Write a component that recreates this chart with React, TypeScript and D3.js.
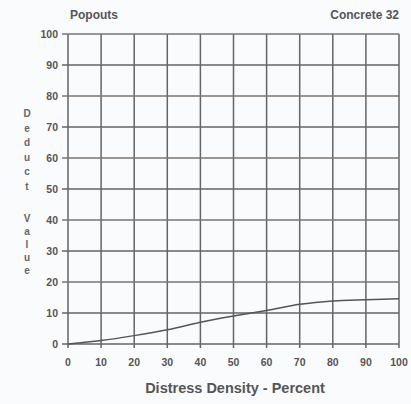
import React from "react";
import * as d3 from "d3";

const density = [0, 10, 20, 30, 40, 50, 60, 70, 80, 90, 100];
const deduct = [0, 1.1, 2.7, 4.6, 7.0, 9.0, 10.8, 12.8, 13.9, 14.3, 14.6];
const xTicks = [0, 10, 20, 30, 40, 50, 60, 70, 80, 90, 100];
const yTicks = [0, 10, 20, 30, 40, 50, 60, 70, 80, 90, 100];
const yLabelTop = ["D", "e", "d", "u", "c", "t"];
const yLabelBottom = ["V", "a", "l", "u", "e"];

export default function App() {
  const W = 411, H = 404;
  const x = d3.scaleLinear().domain([0, 100]).range([68, 399]);
  const y = d3.scaleLinear().domain([0, 100]).range([344, 34]);
  const line = d3.line<number>().x((_, i) => x(density[i])).y((d) => y(d)).curve(d3.curveMonotoneX);
  const font = "Liberation Sans, Arial, sans-serif";
  const grid = "#656565";
  return (
    <svg width={W} height={H} style={{ position: "absolute", left: 0, top: 0, background: "#fafbfc" }}>
      <rect x={0} y={0} width={W} height={H} fill="#fafbfd" />
      {xTicks.map((t) => (
        <line key={"vx" + t} x1={x(t)} x2={x(t)} y1={y(100)} y2={y(0) + 4} stroke={grid} strokeWidth={1.5} />
      ))}
      {yTicks.map((t) => (
        <line key={"hy" + t} x1={x(0) - 6} x2={x(100)} y1={y(t)} y2={y(t)} stroke={t % 20 === 0 && t > 0 ? "#7a7470" : grid} strokeWidth={1.5} />
      ))}
      <path d={line(deduct) || ""} fill="none" stroke="#555" strokeWidth={1.5} />
      {yTicks.map((t) => (
        <text key={"yl" + t} x={58} y={y(t) + 4} textAnchor="end" fontFamily={font} fontSize={10.5} fontWeight="bold" fill="#555">{t}</text>
      ))}
      {xTicks.map((t) => (
        <text key={"xl" + t} x={x(t)} y={366} textAnchor="middle" fontFamily={font} fontSize={10.5} fontWeight="bold" fill="#555">{t}</text>
      ))}
      <text x={235} y={393} textAnchor="middle" fontFamily={font} fontSize={14.5} fontWeight="bold" fill="#555">Distress Density - Percent</text>
      <text x={70} y={19} fontFamily={font} fontSize={12} fontWeight="bold" fill="#555">Popouts</text>
      <text x={399} y={19} textAnchor="end" fontFamily={font} fontSize={12} fontWeight="bold" fill="#555">Concrete 32</text>
      {yLabelTop.map((c, i) => (
        <text key={"a" + i} x={27} y={117 + i * 14.5} textAnchor="middle" fontFamily={font} fontSize={10} fontWeight="bold" fill="#666">{c}</text>
      ))}
      {yLabelBottom.map((c, i) => (
        <text key={"b" + i} x={27} y={222 + i * 13} textAnchor="middle" fontFamily={font} fontSize={10} fontWeight="bold" fill="#666">{c}</text>
      ))}
    </svg>
  );
}
